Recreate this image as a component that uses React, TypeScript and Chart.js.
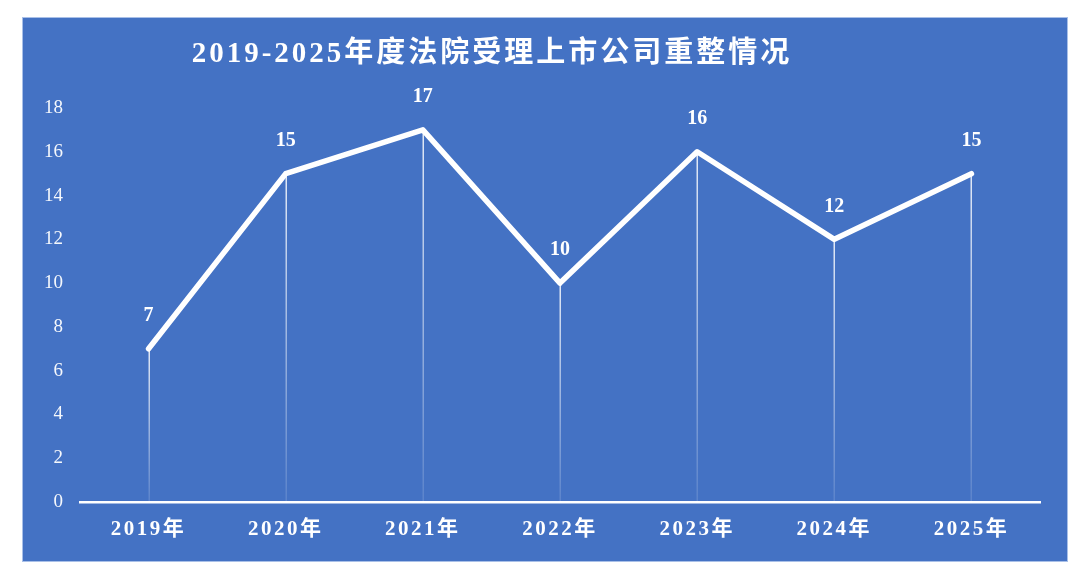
import React, { useEffect, useRef } from "react";
import { Chart, registerables } from "chart.js";

Chart.register(...registerables);

const chartTitle = "2019-2025年度法院受理上市公司重整情况";
const categories = ["2019年", "2020年", "2021年", "2022年", "2023年", "2024年", "2025年"];
const caseCounts = [7, 15, 17, 10, 16, 12, 15];
const yMin = 0;
const yMax = 18;
const yStep = 2;

const BG = "#4472C4";
const SERIF = '"Liberation Serif", "Times New Roman", "Noto Sans CJK SC", serif';

export default function App() {
  const ref = useRef<HTMLCanvasElement | null>(null);

  useEffect(() => {
    const canvas = ref.current;
    if (!canvas) return;

    const backgroundPlugin = {
      id: "panelBackground",
      beforeDraw(chart: any) {
        const ctx = chart.ctx;
        ctx.save();
        ctx.letterSpacing = "0px";
        ctx.fillStyle = BG;
        ctx.fillRect(22, 17, 1046, 545);
        ctx.strokeStyle = "#A9C0E8";
        ctx.lineWidth = 1;
        ctx.strokeRect(22.5, 17.5, 1045, 544);
        // title
        ctx.fillStyle = "#FFFFFF";
        ctx.font = `bold 29px ${SERIF}`;
        (ctx as any).letterSpacing = "3px";
        ctx.textAlign = "center";
        ctx.textBaseline = "middle";
        ctx.fillText(chartTitle, 492, 55);
        ctx.restore();
        (ctx as any).letterSpacing = "0px";
      },
      beforeDatasetsDraw(chart: any) {
        const ctx = chart.ctx;
        const meta = chart.getDatasetMeta(0);
        const bottom = chart.chartArea.bottom;
        ctx.save();
        meta.data.forEach((pt: any) => {
          const g = ctx.createLinearGradient(0, pt.y, 0, bottom);
          g.addColorStop(0, "rgba(255,255,255,0.85)");
          g.addColorStop(1, "rgba(255,255,255,0.12)");
          ctx.strokeStyle = g;
          ctx.lineWidth = 1.5;
          ctx.beginPath();
          ctx.moveTo(Math.round(pt.x) + 0.25, pt.y);
          ctx.lineTo(Math.round(pt.x) + 0.25, bottom);
          ctx.stroke();
        });
        ctx.restore();
      },
      afterDatasetsDraw(chart: any) {
        const ctx = chart.ctx;
        const meta = chart.getDatasetMeta(0);
        const data = chart.data.datasets[0].data;
        ctx.save();
        (ctx as any).letterSpacing = "0px";
        ctx.fillStyle = "#FFFFFF";
        ctx.font = `bold 20px ${SERIF}`;
        ctx.textAlign = "center";
        ctx.textBaseline = "middle";
        meta.data.forEach((pt: any, i: number) => {
          ctx.fillText(String(data[i]), pt.x, pt.y - 33);
        });
        ctx.restore();
        // letter spacing for the x-axis labels drawn after datasets
        (ctx as any).letterSpacing = "2.5px";
      },
      afterDraw(chart: any) {
        (chart.ctx as any).letterSpacing = "0px";
      },
    };

    const chart = new Chart(canvas, {
      type: "line",
      data: {
        labels: categories,
        datasets: [
          {
            data: caseCounts,
            borderColor: "#FFFFFF",
            borderWidth: 5.5,
            borderCapStyle: "round",
            borderJoinStyle: "round",
            pointRadius: 0,
            tension: 0,
            fill: false,
          },
        ],
      },
      options: {
        responsive: false,
        animation: false,
        devicePixelRatio: 1,
        layout: { padding: { left: 0, right: 40, top: 108, bottom: 0 } },
        plugins: {
          legend: { display: false },
          title: { display: false },
          tooltip: { enabled: false },
        },
        scales: {
          x: {
            offset: true,
            grid: { display: false, drawTicks: false },
            border: { display: true, color: "#FFFFFF", width: 2.5 },
            ticks: {
              color: "#FFFFFF",
              font: { family: SERIF, size: 21, weight: "bold" },
              padding: 15,
              z: 1,
            },
            afterFit(scale: any) {
              scale.height = 71;
            },
          },
          y: {
            min: yMin,
            max: yMax,
            grid: { display: false, drawTicks: false },
            border: { display: false },
            ticks: {
              stepSize: yStep,
              color: "rgba(255,255,255,0.95)",
              font: { family: SERIF, size: 19 },
              padding: 17,
            },
            afterFit(scale: any) {
              scale.width = 80;
            },
          },
        },
      },
      plugins: [backgroundPlugin],
    } as any);

    return () => chart.destroy();
  }, []);

  return (
    <div style={{ position: "fixed", left: 0, top: 0, width: 1080, height: 573, background: "#FFFFFF" }}>
      <canvas ref={ref} width={1080} height={573} style={{ display: "block", width: 1080, height: 573 }} />
    </div>
  );
}
